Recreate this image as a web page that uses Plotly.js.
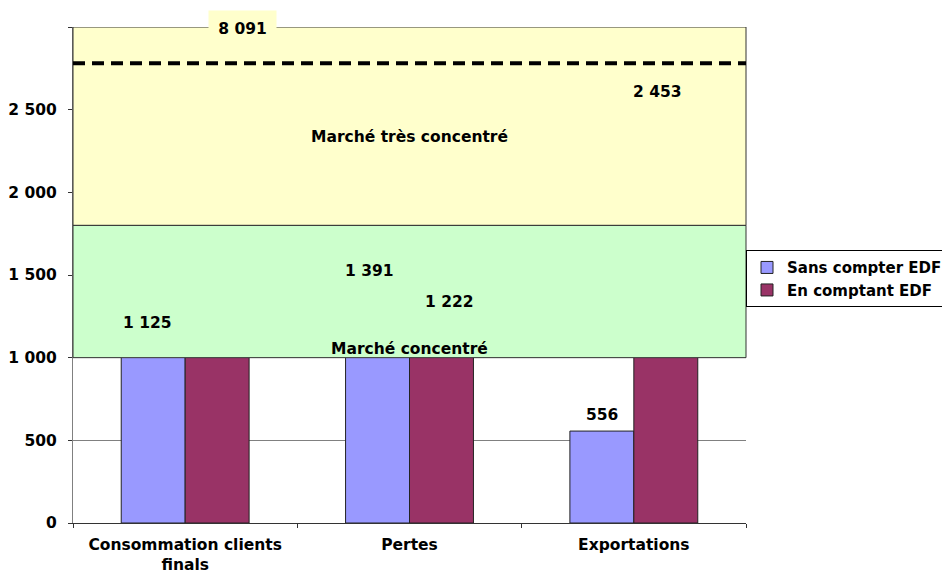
<!DOCTYPE html>
<html>
<head>
<meta charset="utf-8">
<script src="https://cdn.plot.ly/plotly-3.0.1.min.js"></script>
<style>html,body{margin:0;padding:0;background:#fff;}#chart{width:942px;height:575px;}</style>
</head>
<body>
<div id="chart"></div>
<script>
// ---- data ----
var categories = ['Consommation clients finals', 'Pertes', 'Exportations'];
var tickLabels = ['Consommation clients<br>finals', 'Pertes', 'Exportations'];
var seriesNames = ['Sans compter EDF', 'En comptant EDF'];
var sansEDF = [1125, 1391, 556];
var avecEDF = [8091, 1222, 2453];
var zoneConcentreMin = 1000;
var zoneTresConcentreMin = 1800;
var seuilLigne = 2780;
var zoneLabels = ['Marché concentré', 'Marché très concentré'];
var yTicks = [0, 500, 1000, 1500, 2000, 2500, 3000];

// ---- layout constants ----
var yMax = 3000;
var barGap = 0.43;
var colors = ['#9999FF', '#993366'];
var FONT = {family: 'DejaVu Sans, Verdana, sans-serif', size: 15.5, color: '#000', weight: 700};
var LEGEND_FONT = {family: 'DejaVu Sans, Verdana, sans-serif', size: 15, color: '#000', weight: 700};
// manual nudges of data labels (px), as placed in the original
var nudgeX = [[-6, 25], [-8, 8], [0, -8]];
var nudgeY = [[14, 0], [22, 19], [16, 25]];

function fmt(v) { return String(v).replace(/\B(?=(\d{3})+(?!\d))/g, ' '); }

var series = [sansEDF, avecEDF];
var traces = series.map(function (vals, s) {
  return {
    type: 'bar', name: seriesNames[s], x: categories, y: vals,
    marker: {color: colors[s], line: {color: '#222', width: 1}},
    hoverinfo: 'none'
  };
});

var bw = (1 - barGap) / 2;
var annotations = [];
series.forEach(function (vals, s) {
  vals.forEach(function (v, i) {
    var xc = i + (s === 0 ? -bw / 2 : bw / 2);
    var clipped = v > yMax;
    var a = {
      x: xc, y: Math.min(v, yMax), xref: 'x', yref: 'y',
      text: fmt(v), showarrow: false, font: FONT,
      xshift: nudgeX[i][s], yanchor: 'middle',
      yshift: clipped ? -2 : nudgeY[i][s]
    };
    if (clipped) { a.bgcolor = '#FFFFCC'; a.width = 59; a.height = 28; a.borderpad = 4; }
    annotations.push(a);
  });
});
annotations.push({x: 0.5, xref: 'paper', y: 1052, yref: 'y', text: zoneLabels[0], showarrow: false, font: FONT});
annotations.push({x: 0.5, xref: 'paper', y: 2335, yref: 'y', text: zoneLabels[1], showarrow: false, font: FONT});

var layout = {
  width: 942, height: 575,
  margin: {l: 73, r: 196, t: 27, b: 52, autoexpand: false},
  paper_bgcolor: '#fff', plot_bgcolor: '#fff',
  separators: ', ',
  font: FONT,
  barmode: 'group', bargap: barGap, bargroupgap: 0,
  showlegend: true,
  legend: {x: 1.0, xanchor: 'left', y: 0.55, yanchor: 'top', bgcolor: '#fff',
           bordercolor: '#000', borderwidth: 1, font: LEGEND_FONT, tracegroupgap: 0},
  xaxis: {
    type: 'category', tickvals: categories, ticktext: tickLabels,
    showline: true, linecolor: '#333', linewidth: 1,
    ticks: 'outside', tickson: 'boundaries', ticklen: 4, tickcolor: '#333',
    showgrid: false, zeroline: false, tickfont: FONT, fixedrange: true,
    ticklabelstandoff: 7
  },
  yaxis: {
    range: [0, yMax], tickvals: yTicks,
    ticktext: yTicks.map(function (t) { return t === yMax ? '' : fmt(t); }),
    showline: true, linecolor: '#808080', linewidth: 1,
    ticks: 'outside', ticklen: 4, tickcolor: '#333',
    showgrid: true, gridcolor: '#808080', gridwidth: 1,
    zeroline: false, tickfont: FONT, fixedrange: true, ticklabelstandoff: 8
  },
  shapes: [
    {type: 'rect', xref: 'paper', x0: 0, x1: 1, yref: 'y', y0: zoneTresConcentreMin, y1: yMax,
     fillcolor: '#FFFFCC', line: {color: '#333', width: 1}, layer: 'above'},
    {type: 'rect', xref: 'paper', x0: 0, x1: 1, yref: 'y', y0: zoneConcentreMin, y1: zoneTresConcentreMin,
     fillcolor: '#CCFFCC', line: {color: '#333', width: 1}, layer: 'above'},
    {type: 'line', xref: 'paper', x0: 0, x1: 1, yref: 'y', y0: seuilLigne, y1: seuilLigne,
     line: {color: '#000', width: 4, dash: '12px,7px'}, layer: 'above'}
  ],
  annotations: annotations
};

Plotly.newPlot('chart', traces, layout, {displayModeBar: false, staticPlot: true});
</script>
</body>
</html>
